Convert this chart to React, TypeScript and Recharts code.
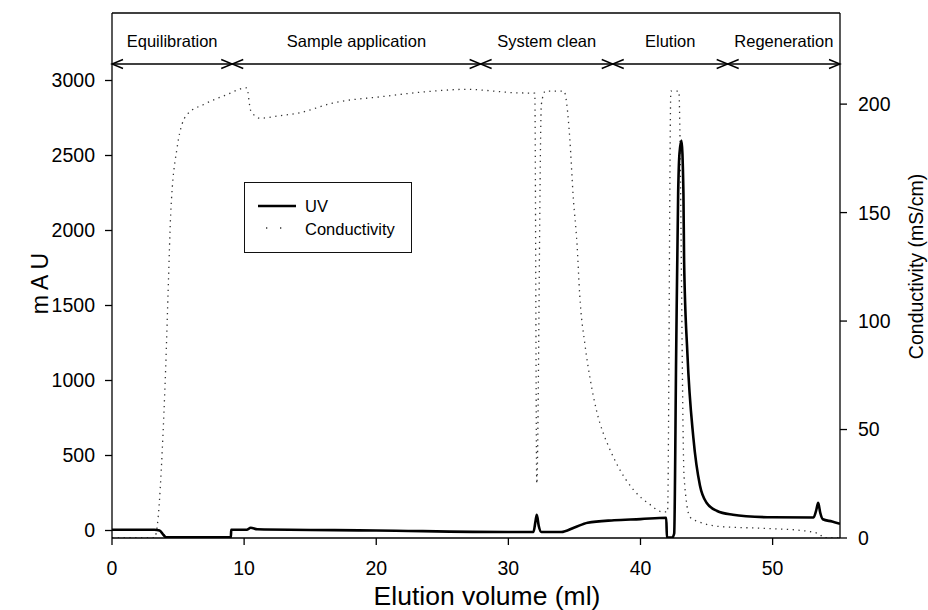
import { ComposedChart, Line, XAxis, YAxis, ReferenceLine, Legend } from "recharts";

if (typeof document !== "undefined") document.body.style.margin = "0";

// UV trace (mAU) against elution volume (ml)
const uvVolume = [
  0, 3.2, 3.6, 3.9, 4.1, 9.0, 9.02, 10.2, 10.5, 11, 20, 30, 31.9, 32.05, 32.15,
  32.3, 32.5, 34.0, 35, 36, 38, 40, 41.95, 42.0, 42.4, 42.55, 42.7, 42.85, 42.95,
  43.1, 43.25, 43.3, 43.55, 44.0, 44.5, 45.0, 45.8, 47, 48, 50, 53.1, 53.3, 53.45,
  53.6, 53.8, 54.5, 55.1,
];
const uvMau = [
  5, 5, 0, -30, -45, -45, 5, 5, 18, 8, 0, -10, -10, 60, 105,
  30, -10, -10, 20, 52, 68, 76, 85, -47, -47, -20, 1180, 2247, 2513,
  2600, 2247, 1800, 1180, 620, 300, 185, 130, 105, 95, 88, 87, 135, 185,
  120, 75, 60, 45,
];

// Conductivity trace (mS/cm) against elution volume (ml)
const condVolume = [
  0, 3.2, 3.5, 3.8, 4.06, 4.27, 4.44, 4.93, 5.65, 7, 8.55, 10.2, 10.5, 11.2, 12.5,
  14.2, 16.7, 20.5, 24.3, 26.8, 30.6, 32.0, 32.15, 32.5, 32.8, 34.2, 34.65, 34.9,
  35.2, 35.4, 35.8, 36.2, 36.7, 37.2, 37.6, 38.3, 39.5, 40.7, 41.7, 42.05, 42.3, 42.9,
  43.3, 43.75, 44.5, 46, 49.6, 52.1, 53.5, 53.9, 55.1,
];
const condMsCm = [
  0, 0, 10, 40, 78, 118, 149, 180, 195, 200, 204, 207.5, 197, 193.5, 194.5,
  196, 200.5, 203.5, 206, 206.8, 205.2, 205, 25, 200, 206, 206, 184, 158,
  135, 112, 89, 73, 58, 48, 42, 33, 22, 15.5, 12, 12, 206, 206,
  28, 9.6, 7.3, 5.3, 4.4, 3.5, 2, 0, 0,
];

// run phases, boundaries in ml
const phaseNames = ["Equilibration", "Sample application", "System clean", "Elution", "Regeneration"];
const phaseBounds = [0, 9.1, 27.9, 37.9, 46.6, 55.1];
const phaseLevel = 218.5; // on the conductivity axis

const volumeTicks = [0, 10, 20, 30, 40, 50];
const mauTicks = [0, 500, 1000, 1500, 2000, 2500, 3000];
const condTicks = [0, 50, 100, 150, 200];

const uvData = uvVolume.map((v, i) => ({ volume: v, uv: uvMau[i] }));
const condData = condVolume.map((v, i) => ({ volume: v, cond: condMsCm[i] }));

const tickStyle = { fill: "#000", fontSize: 19.5 };
const axisLineStyle = { stroke: "#000", strokeWidth: 1.3 };

function PhaseArrow(props: any) {
  const { x1, y1, x2, y2, name } = props;
  const h = 11;
  const w = 4.5;
  const mid = (x1 + x2) / 2;
  return (
    <g>
      <line x1={x1} y1={y1} x2={x2} y2={y2} stroke="#000" strokeWidth={1.4} />
      <polyline
        points={`${x1 + h},${y1 - w} ${x1},${y1} ${x1 + h},${y1 + w}`}
        fill="none"
        stroke="#000"
        strokeWidth={1.4}
      />
      <polyline
        points={`${x2 - h},${y2 - w} ${x2},${y2} ${x2 - h},${y2 + w}`}
        fill="none"
        stroke="#000"
        strokeWidth={1.4}
      />
      <text x={mid} y={y1 - 17} textAnchor="middle" fontSize={16.5} fill="#000">
        {name}
      </text>
    </g>
  );
}

function LegendBox() {
  return (
    <div
      style={{
        width: 168,
        height: 71,
        border: "1.5px solid #111",
        boxSizing: "border-box",
        position: "relative",
        background: "#fff",
      }}
    >
      <svg width={166} height={68} style={{ position: "absolute", left: 0, top: 0 }}>
        <line x1={13} y1={23} x2={51} y2={23} stroke="#000" strokeWidth={2.6} />
        <line x1={21} y1={45} x2={44} y2={45} stroke="#333" strokeWidth={1.3} strokeDasharray="1.3 12.7" />
        <text x={60} y={29} fontSize={16.5} fill="#000">UV</text>
        <text x={60} y={52} fontSize={16.5} fill="#000">Conductivity</text>
      </svg>
    </div>
  );
}

export default function App() {
  return (
    <div style={{ fontFamily: "'Liberation Sans', Arial, Helvetica, sans-serif", background: "#fff" }}>
      <ComposedChart width={928} height={610} margin={{ top: 13, right: 0, bottom: 0, left: 0 }}>
        <XAxis
          type="number"
          dataKey="volume"
          domain={[0, 55.1]}
          ticks={volumeTicks}
          allowDataOverflow
          height={72}
          tickSize={7}
          tickMargin={16}
          tick={tickStyle}
          tickLine={axisLineStyle}
          axisLine={axisLineStyle}
          label={(p: any) => {
            const vb = p.viewBox || { x: 112, y: 538, width: 728 };
            return (
              <text x={vb.x + vb.width / 2 + 11} y={vb.y + 67} textAnchor="middle" fontSize={26.5} fill="#000">
                Elution volume (ml)
              </text>
            );
          }}
        />
        <YAxis
          yAxisId="left"
          domain={[-50, 3450]}
          ticks={mauTicks}
          allowDataOverflow
          width={112}
          tickSize={7}
          tickMargin={10}
          tick={tickStyle}
          tickLine={axisLineStyle}
          axisLine={axisLineStyle}
          label={(p: any) => {
            const vb = p.viewBox || { x: 0, y: 13, height: 525 };
            const cx = vb.x + 40;
            const cy = vb.y + vb.height / 2 + 8;
            return (
              <text
                x={cx}
                y={cy}
                transform={`rotate(-90 ${cx} ${cy})`}
                textAnchor="middle"
                dominantBaseline="central"
                fontSize={23}
                fill="#000"
              >
                m A U
              </text>
            );
          }}
        />
        <YAxis
          yAxisId="right"
          orientation="right"
          domain={[0, 242]}
          ticks={condTicks}
          allowDataOverflow
          width={88}
          tickSize={7}
          tickMargin={11}
          tick={tickStyle}
          tickLine={axisLineStyle}
          axisLine={axisLineStyle}
          label={(p: any) => {
            const vb = p.viewBox || { x: 840, y: 13, height: 525 };
            const cx = vb.x + 76;
            const cy = vb.y + vb.height / 2 - 9;
            return (
              <text
                x={cx}
                y={cy}
                transform={`rotate(-90 ${cx} ${cy})`}
                textAnchor="middle"
                dominantBaseline="central"
                fontSize={19.5}
                fill="#000"
              >
                Conductivity (mS/cm)
              </text>
            );
          }}
        />
        <ReferenceLine yAxisId="left" y={3450} stroke="#000" strokeWidth={1.3} />
        {phaseNames.map((name, i) => (
          <ReferenceLine
            key={name}
            yAxisId="right"
            segment={[
              { x: phaseBounds[i], y: phaseLevel },
              { x: phaseBounds[i + 1], y: phaseLevel },
            ]}
            shape={(p: any) => <PhaseArrow {...p} name={name} />}
          />
        ))}
        <Line
          yAxisId="right"
          data={condData}
          dataKey="cond"
          name="Conductivity"
          type="monotone"
          stroke="#333"
          strokeWidth={1.3}
          strokeDasharray="1.3 4.5"
          dot={false}
          isAnimationActive={false}
        />
        <Line
          yAxisId="left"
          data={uvData}
          dataKey="uv"
          name="UV"
          type="monotone"
          stroke="#000"
          strokeWidth={2.6}
          dot={false}
          isAnimationActive={false}
        />
        <Legend
          layout="horizontal"
          verticalAlign="middle"
          align="center"
          wrapperStyle={{ left: 244, top: 182, width: 168, height: 71 }}
          content={() => <LegendBox />}
        />
      </ComposedChart>
    </div>
  );
}
